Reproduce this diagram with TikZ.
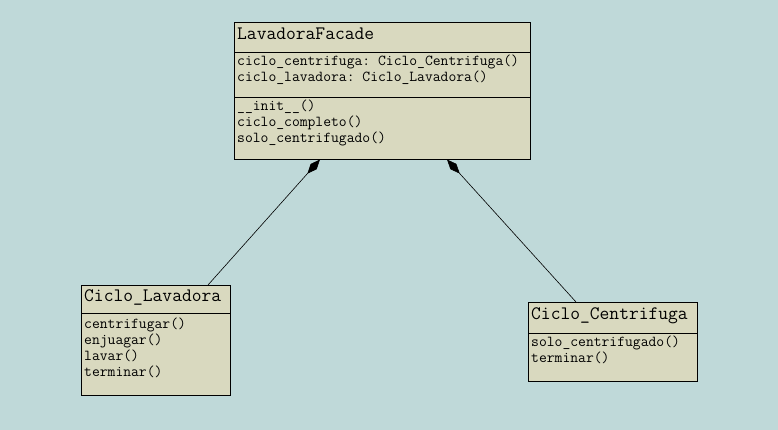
\documentclass[tikz,border=0pt]{standalone}
\usepackage{fontspec}
\usetikzlibrary{arrows.meta}
\definecolor{bgc}{RGB}{191,217,217}
\definecolor{boxc}{RGB}{217,217,191}
\frenchspacing
\begin{document}
\begin{tikzpicture}[x=1pt,y=-1pt,
  umlbox/.style={draw=black,fill=boxc,line width=0.9pt},
  sep/.style={draw=black,line width=0.9pt},
  ttl/.style={anchor=base west,inner sep=0pt,font=\ttfamily\fontsize{19}{20}\selectfont},
  mem/.style={anchor=base west,inner sep=0pt,font=\ttfamily\fontsize{15.2}{16}\selectfont},
  comp/.style={draw=black,line width=0.6pt,-{Diamond[length=19pt,width=8pt,fill=black]}}]
\fill[bgc] (0,0) rectangle (778,430);
\useasboundingbox (0,0) rectangle (778,430);
% LavadoraFacade
\draw[umlbox] (234,22) rectangle (530,159);
\draw[sep] (234,52) -- (530,52);
\draw[sep] (234,97) -- (530,97);
\node[ttl] (f1) at (237,40) {LavadoraFacade};
\node[mem] (f2) at (237,66) {ciclo\_centrifuga: Ciclo\_Centrifuga()};
\node[mem] (f3) at (237,82) {ciclo\_lavadora: Ciclo\_Lavadora()};
\node[mem] (f4) at (237,111) {\_\_init\_\_()};
\node[mem] (f5) at (237,127) {ciclo\_completo()};
\node[mem] (f6) at (237,143) {solo\_centrifugado()};
% Ciclo_Lavadora
\draw[umlbox] (81,285) rectangle (230,395);
\draw[sep] (81,313) -- (230,313);
\node[ttl] (l1) at (84,301) {Ciclo\_Lavadora};
\node[mem] (l2) at (84,328) {centrifugar()};
\node[mem] (l3) at (84,344) {enjuagar()};
\node[mem] (l4) at (84,360) {lavar()};
\node[mem] (l5) at (84,376) {terminar()};
% Ciclo_Centrifuga
\draw[umlbox] (528,302) rectangle (697,381);
\draw[sep] (528,333) -- (697,333);
\node[ttl] (c1) at (531,319) {Ciclo\_Centrifuga};
\node[mem] (c2) at (531,346) {solo\_centrifugado()};
\node[mem] (c3) at (531,362) {terminar()};
% connectors
\coordinate (lavtop) at (208,285);
\coordinate (factipL) at (320,159.5);
\coordinate (centop) at (576,302);
\coordinate (factipR) at (447,159.5);
\draw[comp] (lavtop) -- (factipL);
\draw[comp] (centop) -- (factipR);
\end{tikzpicture}
\end{document}
